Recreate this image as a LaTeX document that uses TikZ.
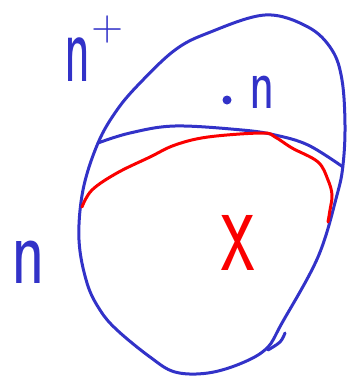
\documentclass[tikz,border=0pt]{standalone}
\usepackage{graphicx}
\definecolor{penblue}{RGB}{50,50,200}
\definecolor{penred}{RGB}{250,0,0}
\tikzset{
  stroke/.style={line width=3pt, line cap=round, line join=round},
  bluepen/.style={stroke, draw=penblue},
  redpen/.style={stroke, draw=penred},
  lbl/.style={inner sep=0pt, font=\sffamily}
}
\begin{document}
\begin{tikzpicture}[x=1pt,y=-1pt]
\useasboundingbox (0,0) rectangle (350,378);
% outer blob
\draw[bluepen] plot[smooth cycle, tension=0.6] coordinates {
 (265,15) (308,27) (332,50) (342,80) (345,125) (343,165) (337,195)
 (318,257) (282,323) (267,348) (242,363) (208,373) (175,372) (150,357)
 (117,330) (100,310) (87,283) (79,240) (83,190) (98,143) (117,110)
 (140,83) (175,50) (208,33)};
% small hook at bottom right
\draw[bluepen] plot[smooth, tension=0.6] coordinates {(268,350) (280,342) (285,333)};
% dividing blue line
\draw[bluepen] plot[smooth, tension=0.6] coordinates {
 (98,143) (130,133) (175,126) (242,130) (275,135) (308,145) (343,167)};
% red curve
\draw[redpen] plot[smooth, tension=0.6] coordinates {
 (82,207) (92,190) (117,173) (150,157) (175,145) (208,137) (262,133)
 (275,137) (292,148) (318,162) (328,180) (332,195) (330,210) (328,222)};
% labels
\node[lbl, text=penblue, anchor=base west] (nplus) at (64,81)
  {\scalebox{0.54}[1]{\fontsize{100}{100}\selectfont n}\hspace{1pt}\raisebox{41pt}{\fontsize{44}{44}\selectfont +}};
\fill[penblue] (227,100) circle (4.5pt);
\node[lbl, text=penblue, anchor=base west] (ninner) at (249,108)
  {\scalebox{0.71}[1]{\fontsize{74}{74}\selectfont n}};
\node[lbl, text=penblue, anchor=base west] (nleft) at (11,283)
  {\scalebox{0.72}[1]{\fontsize{97}{97}\selectfont n}};
\node[lbl, text=penred, anchor=base west] (xmark) at (221,270)
  {\scalebox{0.6}[1]{\fontsize{128}{128}\selectfont x}};
\end{tikzpicture}
\end{document}
